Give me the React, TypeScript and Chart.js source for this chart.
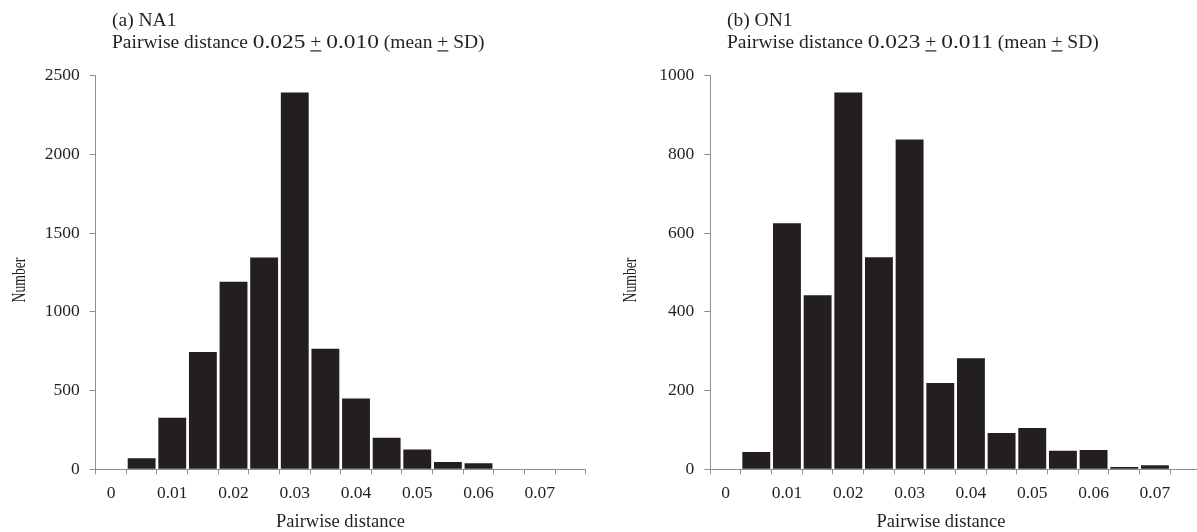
import React, { useEffect, useRef } from "react";
import { Chart, registerables } from "chart.js";

Chart.register(...registerables);

// Histogram bins (start of each 0.005-wide bin)
const binLabels = [
  "0", "0.005", "0.01", "0.015", "0.02", "0.025", "0.03", "0.035",
  "0.04", "0.045", "0.05", "0.055", "0.06", "0.065", "0.07", "0.075",
];

// (a) NA1 counts
const na1Counts = [0, 70, 328, 745, 1192, 1346, 2394, 766, 449, 201, 125, 47, 38, 0, 0, 0];
// (b) ON1 counts
const on1Counts = [0, 44, 625, 442, 957, 539, 838, 219, 282, 92, 105, 47, 49, 6, 10, 0];

const na1YMax = 2500;
const na1YStep = 500;
const on1YMax = 1000;
const on1YStep = 200;

const na1Name = "(a) NA1";
const na1Mean = "0.025";
const na1Sd = "0.010";
const on1Name = "(b) ON1";
const on1Mean = "0.023";
const on1Sd = "0.011";

const xTitleText = "Pairwise distance";
const yTitleText = "Number";

const INK = "#231F20";
const AXIS = "#8f8f8f";
const FONT = "'Liberation Serif', 'Times New Roman', serif";

type PanelProps = {
  counts: number[];
  yMax: number;
  yStep: number;
  name: string;
  mean: string;
  sd: string;
  left: number;
  width: number;
  yAxisWidth: number;
  rightPad: number;
  titleX: number;
  yTitleX: number;
  xTitleX: number;
};

function Panel(p: PanelProps) {
  const ref = useRef<HTMLCanvasElement | null>(null);

  useEffect(() => {
    const canvas = ref.current;
    if (!canvas) return;

    const textPlugin = {
      id: "panelText",
      afterDraw(chart: any) {
        const ctx = chart.ctx as CanvasRenderingContext2D;
        ctx.save();
        ctx.fillStyle = INK;
        ctx.textAlign = "left";
        ctx.textBaseline = "alphabetic";
        ctx.font = `19.5px ${FONT}`;
        ctx.fillText(p.name, p.titleX, 26);
        // [text, underlined, horizontal stretch]
        const pieces: [string, boolean, number][] = [
          ["Pairwise distance ", false, 1],
          [p.mean, false, 1.2],
          [" ", false, 1],
          ["+", true, 1],
          [" ", false, 1],
          [p.sd, false, 1.2],
          [" (mean ", false, 1],
          ["+", true, 1],
          [" SD)", false, 1],
        ];
        let x = p.titleX;
        const by = 48.3;
        for (const [t, ul, sx] of pieces) {
          const w = ctx.measureText(t).width * sx;
          ctx.save();
          ctx.translate(x, by);
          ctx.scale(sx, 1);
          ctx.fillText(t, 0, 0);
          ctx.restore();
          if (ul) ctx.fillRect(x, by + 2, w, 1.2);
          x += w;
        }
        // x axis title
        ctx.textAlign = "center";
        ctx.font = `18.5px ${FONT}`;
        ctx.fillText(xTitleText, p.xTitleX, 526.5);
        // y axis title (rotated)
        ctx.translate(p.yTitleX, 280);
        ctx.rotate(-Math.PI / 2);
        ctx.scale(0.74, 1);
        ctx.font = `18.5px ${FONT}`;
        ctx.fillText(yTitleText, 0, 0);
        ctx.restore();
      },
    };

    const chart = new Chart(canvas, {
      type: "bar",
      data: {
        labels: binLabels,
        datasets: [
          {
            data: p.counts,
            backgroundColor: INK,
            borderWidth: 0,
            barPercentage: 0.91,
            categoryPercentage: 1,
          },
        ],
      },
      options: {
        animation: false,
        responsive: false,
        devicePixelRatio: 1,
        layout: { padding: { left: 0, right: p.rightPad, top: 75.7, bottom: 0 } },
        plugins: {
          legend: { display: false },
          tooltip: { enabled: false },
          title: { display: false },
        },
        scales: {
          x: {
            type: "category",
            grid: {
              display: true,
              drawOnChartArea: false,
              drawTicks: true,
              tickLength: 5,
              color: AXIS,
              offset: true,
            },
            border: { display: true, color: AXIS, width: 1 },
            ticks: {
              autoSkip: false,
              maxRotation: 0,
              minRotation: 0,
              padding: 9,
              color: INK,
              font: { family: FONT, size: 17.5 },
              callback: (_v: any, i: number) => (i % 2 === 0 ? binLabels[i] : ""),
            },
            afterFit: (scale: any) => {
              scale.height = 62.7;
            },
          },
          y: {
            min: 0,
            max: p.yMax,
            grid: {
              display: true,
              drawOnChartArea: false,
              drawTicks: true,
              tickLength: 6,
              color: AXIS,
            },
            border: { display: true, color: AXIS, width: 1 },
            ticks: {
              stepSize: p.yStep,
              padding: 10,
              color: INK,
              font: { family: FONT, size: 17.5 },
              callback: (v: any) => String(v),
            },
            afterFit: (scale: any) => {
              scale.width = p.yAxisWidth;
            },
          },
        },
      } as any,
      plugins: [textPlugin],
    });

    return () => chart.destroy();
  }, []);

  return (
    <canvas
      ref={ref}
      width={p.width}
      height={532}
      style={{ position: "absolute", left: p.left, top: 0, width: p.width, height: 532, display: "block" }}
    />
  );
}

export default function App() {
  return (
    <div
      style={{
        position: "absolute",
        left: 0,
        top: 0,
        width: 1197,
        height: 532,
        overflow: "hidden",
        background: "#ffffff",
      }}
    >
      <Panel
        counts={na1Counts}
        yMax={na1YMax}
        yStep={na1YStep}
        name={na1Name}
        mean={na1Mean}
        sd={na1Sd}
        left={0}
        width={598}
        yAxisWidth={95.7}
        rightPad={12.3}
        titleX={112}
        yTitleX={25}
        xTitleX={340.5}
      />
      <Panel
        counts={on1Counts}
        yMax={on1YMax}
        yStep={on1YStep}
        name={on1Name}
        mean={on1Mean}
        sd={on1Sd}
        left={598}
        width={610}
        yAxisWidth={112.3}
        rightPad={7.1}
        titleX={129}
        yTitleX={38}
        xTitleX={343}
      />
    </div>
  );
}
